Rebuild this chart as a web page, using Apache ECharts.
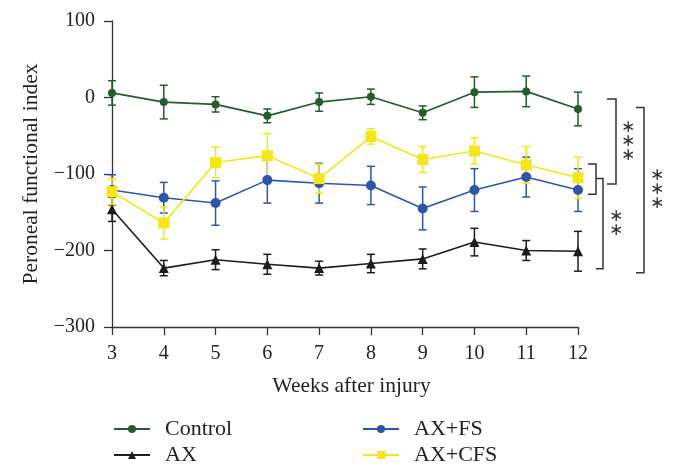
<!DOCTYPE html>
<html><head><meta charset="utf-8">
<script src="https://cdn.jsdelivr.net/npm/echarts@6/dist/echarts.min.js"></script>
<style>html,body{margin:0;padding:0;background:#fff}#c{width:675px;height:475px}</style>
</head><body><div id="c"></div>
<script>
var weeks = [3, 4, 5, 6, 7, 8, 9, 10, 11, 12];
var yTicks = [-300, -200, -100, 0, 100];
var control = [6, -6, -9, -24, -6, 1, -20, 7, 8, -15];
var controlErr = [16, 22, 10, 9, 12, 10, 9, 20, 20, 22];
var ax = [-146, -223, -212, -218, -223, -217, -211, -189, -200, -201];
var axErr = [16, 10, 13, 13, 9, 12, 13, 18, 13, 26];
var fs = [-121, -131, -138, -108, -112, -115, -145, -121, -104, -121];
var fsErr = [20, 20, 29, 30, 26, 25, 28, 28, 26, 28];
var cfs = [-123, -164, -85, -76, -106, -51, -81, -70, -88, -105];
var cfsErr = [17, 21, 20, 29, 19, 10, 17, 17, 24, 27];
var seriesNames = ['Control', 'AX', 'AX+FS', 'AX+CFS'];
// significance brackets: [topValue, bottomValue, label]
var brackets = [[-2, -113, '***'], [-87, -126.5, ''], [-106, -224, '**'], [-13, -229, '***']];

var colors = {'Control': '#245c2c', 'AX': '#1c1c1c', 'AX+FS': '#2f55a6', 'AX+CFS': '#f4e61a'};
var symbols = {'Control': 'circle', 'AX': 'triangle', 'AX+FS': 'circle', 'AX+CFS': 'rect'};
var symSize = {'Control': 8, 'AX': 10, 'AX+FS': 10, 'AX+CFS': 11};
var means = {'Control': control, 'AX': ax, 'AX+FS': fs, 'AX+CFS': cfs};
var errs = {'Control': controlErr, 'AX': axErr, 'AX+FS': fsErr, 'AX+CFS': cfsErr};
var FONT = '"Liberation Serif", "DejaVu Serif", serif';

var series = [];
seriesNames.forEach(function (name) {
  var col = colors[name];
  series.push({
    type: 'custom', name: name + ' err', silent: true, z: 2,
    data: weeks.map(function (w, i) { return [w, means[name][i] - errs[name][i], means[name][i] + errs[name][i]]; }),
    encode: {x: 0, y: [1, 2]},
    renderItem: function (params, api) {
      var lo = api.coord([api.value(0), api.value(1)]);
      var hi = api.coord([api.value(0), api.value(2)]);
      var hw = 4;
      var st = {stroke: col, lineWidth: 1.5};
      return {type: 'group', children: [
        {type: 'line', shape: {x1: lo[0], y1: lo[1], x2: hi[0], y2: hi[1]}, style: st},
        {type: 'line', shape: {x1: lo[0] - hw, y1: lo[1], x2: lo[0] + hw, y2: lo[1]}, style: st},
        {type: 'line', shape: {x1: hi[0] - hw, y1: hi[1], x2: hi[0] + hw, y2: hi[1]}, style: st}
      ]};
    }
  });
  series.push({
    type: 'line', name: name, z: 3,
    data: weeks.map(function (w, i) { return [w, means[name][i]]; }),
    symbol: symbols[name], symbolSize: symSize[name], showSymbol: true,
    lineStyle: {color: col, width: 1.6},
    itemStyle: {color: col, borderWidth: 0},
    emphasis: {disabled: true}, animation: false
  });
});

var chart = echarts.init(document.getElementById('c'), null, {renderer: 'canvas'});
function mkLegend(name, left, top) {
  return {
    orient: 'horizontal', left: left, top: top, data: [name],
    itemWidth: 36, itemHeight: 10, padding: 0,
    textStyle: {fontFamily: FONT, fontSize: 22, color: '#222', padding: [0, 0, 0, 10]},
    selectedMode: false
  };
}
chart.setOption({
  animation: false,
  grid: {left: 112, right: 97, top: 21, bottom: 148, containLabel: false},
  xAxis: {
    type: 'value', min: 3, max: 12, interval: 1,
    name: 'Weeks after injury', nameLocation: 'middle', nameGap: 48,
    nameTextStyle: {fontFamily: FONT, fontSize: 21.5, color: '#222', padding: [0, 0, 0, 13]},
    axisLine: {show: true, onZero: false, lineStyle: {color: '#333', width: 1.3}},
    axisTick: {show: true, length: 8, lineStyle: {color: '#333', width: 1.3}},
    axisLabel: {fontFamily: FONT, fontSize: 20, color: '#222', margin: 17},
    splitLine: {show: false}
  },
  yAxis: {
    type: 'value', min: yTicks[0], max: yTicks[yTicks.length - 1], interval: 100,
    name: 'Peroneal functional index', nameLocation: 'middle', nameGap: 63,
    nameTextStyle: {fontFamily: FONT, fontSize: 21.5, color: '#222'},
    axisLine: {show: true, lineStyle: {color: '#333', width: 1.3}},
    axisTick: {show: true, length: 8, lineStyle: {color: '#333', width: 1.3}},
    axisLabel: {fontFamily: FONT, fontSize: 20, color: '#222', margin: 17,
      formatter: function (v) { return String(v).replace('-', '\u2212'); }},
    splitLine: {show: false}
  },
  legend: [
    mkLegend('Control', 113, 418),
    mkLegend('AX', 113, 444),
    mkLegend('AX+FS', 362, 418),
    mkLegend('AX+CFS', 362, 444)
  ],
  series: series
});

// significance brackets drawn in data space
function py(v) { return chart.convertToPixel({yAxisIndex: 0}, v); }
var bx = [[607, 616], [588, 596], [596, 603], [636, 644]];
var starX = [628, null, 616, 657];
var g = [];
brackets.forEach(function (b, i) {
  var y1 = py(b[0]), y2 = py(b[1]);
  var x0 = bx[i][0], x1 = bx[i][1];
  g.push({type: 'polyline', shape: {points: [[x0, y1], [x1, y1], [x1, y2], [x0, y2]]},
    style: {stroke: '#333', lineWidth: 1.5, fill: null}});
  if (b[2]) {
    var n = b[2].length, mid = (y1 + y2) / 2, sp = 14;
    for (var k = 0; k < n; k++) {
      g.push({type: 'text', x: starX[i], y: mid + (k - (n - 1) / 2) * sp,
        style: {text: '\u2217', font: '17px "DejaVu Sans"', fill: '#333', align: 'center', verticalAlign: 'middle'}});
    }
  }
});
chart.setOption({graphic: g});
</script>
</body></html>
